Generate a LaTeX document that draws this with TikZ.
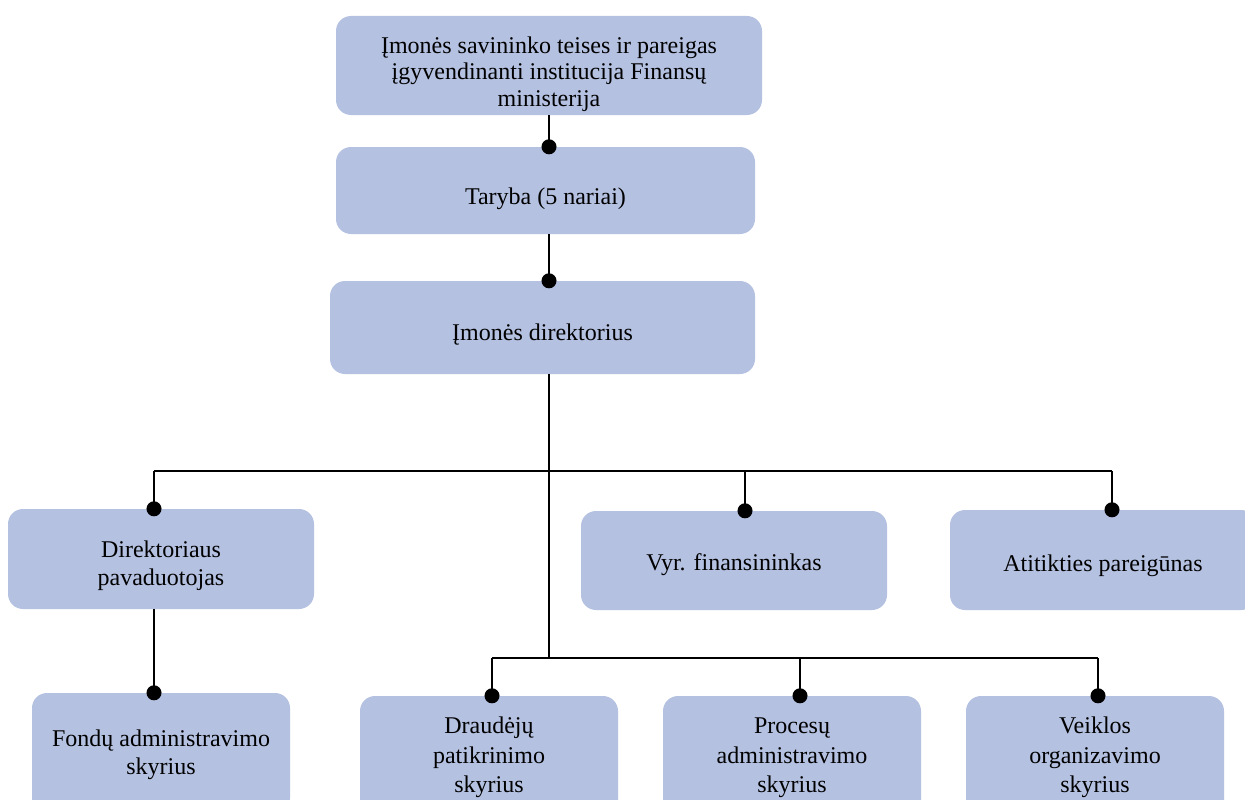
\documentclass[tikz,border=0pt]{standalone}
\usepackage{fontspec}
\setmainfont{Liberation Serif}
\usetikzlibrary{arrows.meta,positioning}
\definecolor{boxblue}{RGB}{180,193,225}
\tikzset{
	unit/.style={rectangle, rounded corners=15pt, fill=boxblue, align=center, inner sep=0pt, font=\fontsize{24}{26.5}\selectfont},
	dept/.style={unit, minimum width=258pt, minimum height=120pt, font=\fontsize{24}{29.5}\selectfont},
	txt/.style 2 args={text height=#1, text depth=#2},
	wire/.style={line width=1.3pt},
	link/.style={wire, -{Circle[length=15pt]}, shorten >=-7.5pt},
}

\begin{document}
\begin{tikzpicture}[x=1pt, y=-1pt]
	\path[use as bounding box, clip] (0,0) rectangle (1245,800);
	% Knoten
		\node (own) at (549,65.5) [unit, txt={87pt}{5pt}, minimum width=426pt, minimum height=99pt] {Įmonės savininko teises ir pareigas\\ įgyvendinanti institucija Finansų\\ ministerija};
		\node (tar) at (545.5,190.5) [unit, txt={33pt}{5pt}, minimum width=419pt, minimum height=87pt] {Taryba (5 nariai)};
		\node (dir) at (542.5,327.5) [unit, txt={31pt}{5pt}, minimum width=425pt, minimum height=93pt] {Įmonės direktorius};
		\node (pav) at (161,559) [unit, txt={58pt}{5pt}, minimum width=306pt, minimum height=100pt, font=\fontsize{24}{28}\selectfont] {Direktoriaus\\ pavaduotojas};
		\node (fin) at (734,560.5) [unit, txt={25pt}{5pt}, minimum width=306pt, minimum height=99pt] {Vyr. finansininkas};
		\node (ati) at (1103,560) [unit, txt={28pt}{5pt}, minimum width=306pt, minimum height=100pt] {Atitikties pareigūnas};
		\node (fon) at (161,753) [dept, txt={48pt}{5pt}, font=\fontsize{24}{28}\selectfont] {Fondų administravimo\\ skyrius};
		\node (dra) at (489,756) [dept, txt={78pt}{5pt}] {Draudėjų\\ patikrinimo\\ skyrius};
		\node (pro) at (792,756) [dept, txt={78pt}{5pt}] {Procesų\\ administravimo\\ skyrius};
		\node (vei) at (1095,756) [dept, txt={78pt}{5pt}] {Veiklos\\ organizavimo\\ skyrius};
	% Verbindungen
		\coordinate (mid) at (549,471);
		\coordinate (low) at (549,658);
		\coordinate (hl) at (154,471);
		\coordinate (hm) at (745,471);
		\coordinate (hr) at (1112,471);
		\coordinate (ll) at (492,658);
		\coordinate (lm) at (800,658);
		\coordinate (lr) at (1098,658);
		\draw[link] (own.south -| mid) -- (tar.north -| mid);
		\draw[link] (tar.south -| mid) -- (dir.north -| mid);
		\draw[wire] (dir.south -| mid) -- (low);
		\draw[wire] (hl) -- (hr);
		\draw[link] (hl) -- (hl |- pav.north);
		\draw[link] (hm) -- (hm |- fin.north);
		\draw[link] (hr) -- (hr |- ati.north);
		\draw[link] (pav.south -| hl) -- (hl |- fon.north);
		\draw[wire] (ll) -- (lr);
		\draw[link] (ll) -- (ll |- dra.north);
		\draw[link] (lm) -- (lm |- pro.north);
		\draw[link] (lr) -- (lr |- vei.north);
\end{tikzpicture}
\end{document}
